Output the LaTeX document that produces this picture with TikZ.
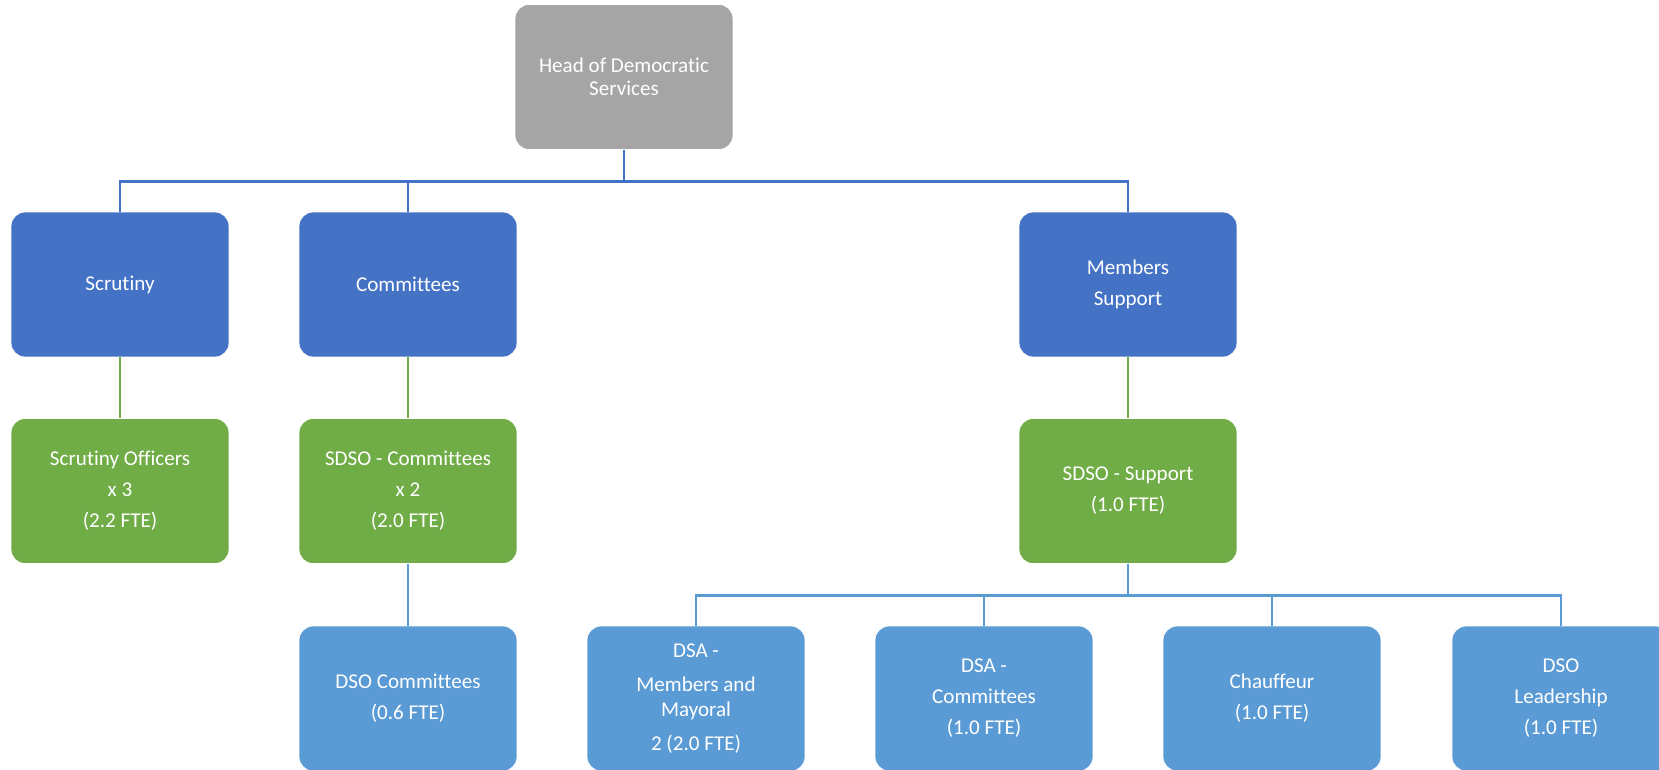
\documentclass[tikz,border=0pt]{standalone}
\usepackage{fontspec}
\setmainfont{Carlito}[Ligatures=NoCommon]
\usepackage{tikz}
\usetikzlibrary{positioning}
\usepackage{xcolor}
\definecolor{dsgrey}{RGB}{165,165,165}
\definecolor{dsblue}{RGB}{68,114,196}
\definecolor{dsgreen}{RGB}{112,173,71}
\definecolor{dslightblue}{RGB}{91,155,213}
\tikzstyle{orgbox} = [rectangle, rounded corners=0.28cm, minimum width=4.36cm, minimum height=2.9cm, text centered, align=center, draw=white, thin, text=white, font=\fontsize{12}{17.6}\selectfont]
\tikzstyle{headbox} = [orgbox, fill=dsgrey, font=\fontsize{12}{13.2}\selectfont]
\tikzstyle{teambox} = [orgbox, fill=dsblue]
\tikzstyle{seniorbox} = [orgbox, fill=dsgreen]
\tikzstyle{officerbox} = [orgbox, fill=dslightblue]
\tikzstyle{link} = [line width=1.5pt]

\begin{document}
\begin{tikzpicture}[x=0.02cm, y=-0.02cm]
\useasboundingbox (0,0) rectangle (1659,769);
\clip (0,0) rectangle (1659,769);

% Head
\node (head) [headbox] at (624,77) {Head of Democratic\\Services};

% Teams
\node (scrutiny) [teambox] at (120,284.5) {Scrutiny};
\node (committees) [teambox] at (408,284.5) {Committees};
\node (members) [teambox] at (1128,284.5) {Members\\Support};

% Senior officers
\node (scrofficers) [seniorbox] at (120,491) {Scrutiny Officers\\x 3\\(2.2 FTE)};
\node (sdsocom) [seniorbox] at (408,491) {SDSO - Committees\\x 2\\(2.0 FTE)};
\node (sdsosup) [seniorbox] at (1128,491) {SDSO - Support\\(1.0 FTE)};

% Officers and assistants
\node (dsocom) [officerbox] at (408,698.5) {DSO Committees\\(0.6 FTE)};
\node (dsamem) [officerbox] at (696,698.5) {DSA -\\[1.7pt]Members and\\[-3.4pt]Mayoral\\[1.7pt]2 (2.0 FTE)};
\node (dsacom) [officerbox] at (984,698.5) {DSA -\\Committees\\(1.0 FTE)};
\node (chauffeur) [officerbox] at (1272,698.5) {Chauffeur\\(1.0 FTE)};
\node (dsolead) [officerbox] at (1561,698.5) {DSO\\Leadership\\(1.0 FTE)};

% Head to teams
\draw[link, dsblue] (head.south) -- ++(0,31.5) -| (scrutiny.north);
\draw[link, dsblue] (head.south) -- ++(0,31.5) -| (committees.north);
\draw[link, dsblue] (head.south) -- ++(0,31.5) -| (members.north);

% Teams to senior officers
\draw[link, dsgreen] (scrutiny) -- (scrofficers);
\draw[link, dsgreen] (committees) -- (sdsocom);
\draw[link, dsgreen] (members) -- (sdsosup);

% Senior officers to officers
\draw[link, dslightblue] (sdsocom) -- (dsocom);
\draw[link, dslightblue] (sdsosup.south) -- ++(0,31.5) -| (dsamem.north);
\draw[link, dslightblue] (sdsosup.south) -- ++(0,31.5) -| (dsacom.north);
\draw[link, dslightblue] (sdsosup.south) -- ++(0,31.5) -| (chauffeur.north);
\draw[link, dslightblue] (sdsosup.south) -- ++(0,31.5) -| (dsolead.north);
\end{tikzpicture}
\end{document}
